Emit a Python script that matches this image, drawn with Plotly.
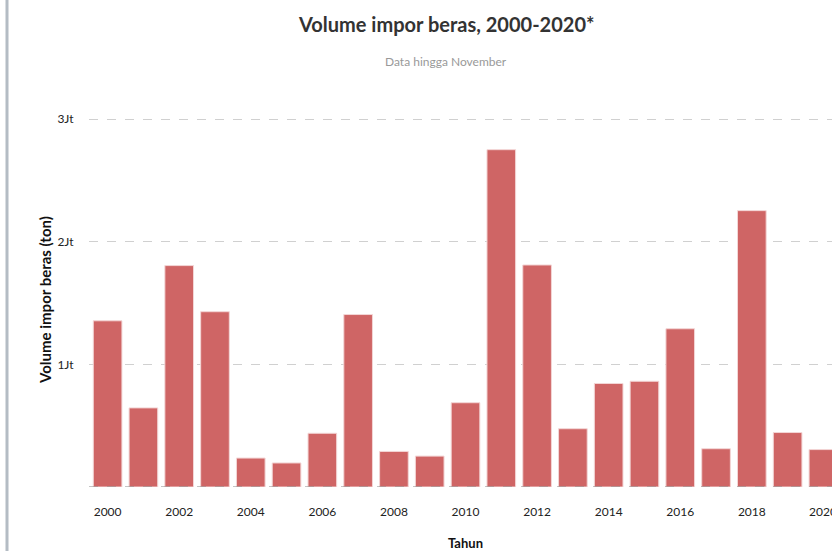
import plotly.graph_objects as go

years = list(range(2000, 2021))
volume = [1355000, 645000, 1805000, 1429000, 236000, 196000, 438000, 1406000,
          290000, 252000, 687000, 2750000, 1810000, 475000, 844000, 862000,
          1290000, 312000, 2253000, 444000, 305000]
tick_vals = [1000000, 2000000, 3000000]
tick_text = ["1Jt", "2Jt", "3Jt"]
x_ticks = list(range(2000, 2021, 2))

W, H = 832, 551
L, R, T, B = 89, 0, 113, 64
pw = W - L - R
ph = H - T - B

def px(x):
    return (x - L) / pw

def py(y):
    return (H - B - y) / ph

fig = go.Figure()
fig.add_trace(go.Bar(
    x=years, y=volume,
    marker=dict(color="#cf6565", line=dict(color="#f3d6d6", width=1)),
    width=0.8,
))

fig.update_layout(
    width=W, height=H,
    margin=dict(l=L, r=R, t=T, b=B, pad=0, autoexpand=False),
    paper_bgcolor="white", plot_bgcolor="white",
    font=dict(family="Lato", color="#333"),
    showlegend=False,
    xaxis=dict(
        range=[1999.48, 2020.24],
        tickmode="array", tickvals=x_ticks[:-1], ticktext=[str(v) for v in x_ticks[:-1]],
        showgrid=False, zeroline=False, showline=False,
        ticks="outside", ticklen=14, tickcolor="rgba(0,0,0,0)",
        tickfont=dict(family="Lato", size=12, color="#222"),
    ),
    yaxis=dict(
        range=[0, 3049000],
        tickmode="array", tickvals=tick_vals, ticktext=tick_text,
        showgrid=True, gridcolor="#d0d0d0", griddash="dash", gridwidth=1,
        zeroline=False, showline=False,
        ticks="outside", ticklen=12, tickcolor="rgba(0,0,0,0)",
        tickfont=dict(family="Lato", size=12, color="#222"),
    ),
)

# last x tick label (clipped by the page edge, as in the original)
fig.add_annotation(text=str(x_ticks[-1]), xref="x", yref="paper",
                   x=x_ticks[-1], y=py(511), showarrow=False, xanchor="center",
                   yanchor="middle", font=dict(family="Lato", size=12, color="#222"))

# baseline dashed
fig.add_shape(type="line", xref="paper", yref="y", x0=0, x1=1, y0=0, y1=0,
              line=dict(color="#888", width=1, dash="dash"), layer="above")

# left accent bar
fig.add_shape(type="line", xref="paper", yref="paper",
              x0=px(7), x1=px(7), y0=py(0), y1=py(H),
              line=dict(color="#b4bcc4", width=3))

fig.add_annotation(text="<b>Volume impor beras, 2000-2020*</b>", xref="paper", yref="paper",
                   x=px(446), y=py(24), showarrow=False, xanchor="center", yanchor="middle",
                   font=dict(family="Lato", size=20, color="#333"))
fig.add_annotation(text="Data hingga November", xref="paper", yref="paper",
                   x=px(446), y=py(61), showarrow=False, xanchor="center", yanchor="middle",
                   font=dict(family="Lato", size=12, color="#999"))
fig.add_annotation(text="<b>Volume impor beras (ton)</b>", xref="paper", yref="paper",
                   x=px(45), y=py(300), showarrow=False, xanchor="center", yanchor="middle",
                   textangle=-90, font=dict(family="Lato", size=15, color="#111"))
fig.add_annotation(text="<b>Tahun</b>", xref="paper", yref="paper",
                   x=px(465), y=py(543), showarrow=False, xanchor="center", yanchor="middle",
                   font=dict(family="Lato", size=13, color="#111"))

fig.write_html("out.html")
